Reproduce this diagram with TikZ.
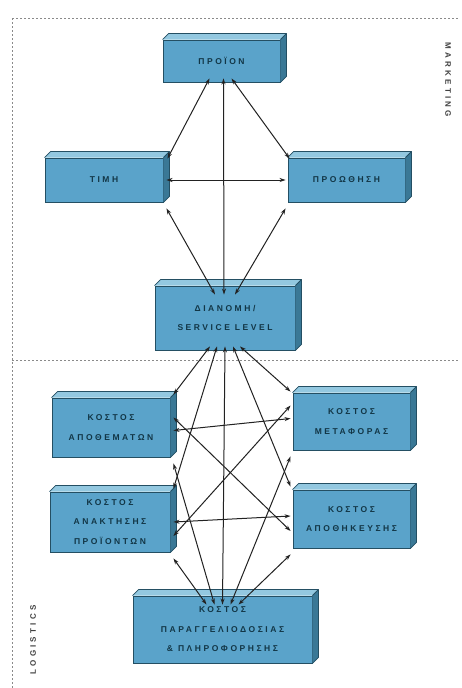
\documentclass[tikz,border=0pt]{standalone}
\usepackage{fontspec}
\setmainfont{Liberation Sans}
\newfontfamily\boxfont[LetterSpace=30]{Liberation Sans Bold}
\newfontfamily\sidefont[LetterSpace=40]{Liberation Sans Bold}
\usetikzlibrary{arrows.meta,calc}
\definecolor{boxfront}{HTML}{5AA3CA}
\definecolor{boxtop}{HTML}{93C8E0}
\definecolor{boxside}{HTML}{3A7896}
\definecolor{boxline}{HTML}{244F63}
\definecolor{boxtext}{HTML}{123646}
\definecolor{link}{HTML}{222222}
\definecolor{frameline}{HTML}{8A8A8A}
\tikzset{
  cube/.style={draw=boxline, fill=boxfront, line width=0.9pt, align=center,
    text=boxtext, inner sep=0pt, font=\boxfont\fontsize{8.5}{19.5}\selectfont},
  face/.style={draw=boxline, line width=0.8pt, line join=round},
  link/.style={draw=link, line width=1pt, {Stealth[length=6pt,width=4pt]}-{Stealth[length=6pt,width=4pt]}},
  frame/.style={draw=frameline, line width=0.9pt, dash pattern=on 1.5pt off 2.5pt},
  sidelabel/.style={text=black!75, font=\sidefont\fontsize{8}{9}\selectfont}
}
% a box drawn as a block: front node plus top and right faces
\newcommand\block[6]{%
  \node[cube, minimum width=#4, minimum height=#5] (#1) at (#2,#3) {#6};
  \fill[boxtop] (#1.north west) -- ++(6,-6) -- ([shift={(6,-6)}]#1.north east) -- (#1.north east) -- cycle;
  \fill[boxside] (#1.north east) -- ++(6,-6) -- ([shift={(6,-6)}]#1.south east) -- (#1.south east) -- cycle;
  \draw[face] (#1.north west) -- ++(6,-6) -- ([shift={(6,-6)}]#1.north east) -- ([shift={(6,-6)}]#1.south east) -- (#1.south east);
  \draw[face] (#1.north east) -- ++(6,-6);
}
\begin{document}
\begin{tikzpicture}[x=1pt,y=-1pt]
\useasboundingbox (0,0) rectangle (462,688);
\fill[white] (0,0) rectangle (462,688);

% dotted frame of the two areas
\draw[frame] (12,18) -- (458,18);
\draw[frame] (12,18) -- (12,688);
\draw[frame] (12,360) -- (458,360);

\node[sidelabel, rotate=-90] (mk) at (448,80) {MARKETING};
\node[sidelabel, rotate=90] (lg) at (33,640) {LOGISTICS};

% marketing mix
\block{prod}{221.5}{61}{117}{42}{ΠΡΟΪΟΝ}
\block{price}{104}{180}{118}{44}{ΤΙΜΗ}
\block{promo}{346.5}{180}{117}{44}{ΠΡΟΩΘΗΣΗ}
\block{serv}{225}{318}{140}{64}{ΔΙΑΝΟΜΗ/\\SERVICE LEVEL}

% logistics costs
\block{inv}{111}{427.5}{118}{59}{ΚΟΣΤΟΣ\\ΑΠΟΘΕΜΑΤΩΝ}
\block{trans}{351.5}{421.5}{117}{57}{ΚΟΣΤΟΣ\\ΜΕΤΑΦΟΡΑΣ}
\block{lot}{110}{522}{120}{60}{ΚΟΣΤΟΣ\\ΑΝΑΚΤΗΣΗΣ\\ΠΡΟΪΟΝΤΩΝ}
\block{ware}{351.5}{519}{117}{58}{ΚΟΣΤΟΣ\\ΑΠΟΘΗΚΕΥΣΗΣ}
\block{order}{222.5}{629.5}{179}{67}{ΚΟΣΤΟΣ\\ΠΑΡΑΓΓΕΛΙΟΔΟΣΙΑΣ\\\& ΠΛΗΡΟΦΟΡΗΣΗΣ}

% trade-offs in the marketing area
\draw[link] ([xshift=-12pt,yshift=4pt]prod.south) -- ([xshift=4pt,yshift=-1pt]price.north east);
\draw[link] ([xshift=10pt,yshift=4pt]prod.south) -- ([xshift=2pt,yshift=-1pt]promo.north west);
\draw[link] ([xshift=2pt,yshift=4pt]prod.south) -- ([xshift=-1pt,yshift=-9pt]serv.north);
\draw[link] ([xshift=3pt]price.east) -- ([xshift=-2pt]promo.west);
\draw[link] ([xshift=3pt,yshift=-6pt]price.south east) -- ([xshift=-10pt,yshift=-9pt]serv.north);
\draw[link] ([xshift=-2pt,yshift=-6pt]promo.south west) -- ([xshift=10pt,yshift=-9pt]serv.north);

% trade-offs in the logistics area
\draw[link] ([xshift=-15pt,yshift=4pt]serv.south) -- ([xshift=3pt,yshift=3pt]inv.north east);
\draw[link] ([xshift=15pt,yshift=4pt]serv.south) -- ([xshift=-2pt,yshift=1pt]trans.north west);
\draw[link] ([xshift=-8pt,yshift=4pt]serv.south) -- ([xshift=3pt,yshift=3pt]lot.north east);
\draw[link] ([xshift=8pt,yshift=4pt]serv.south) -- ([xshift=-2pt,yshift=3pt]ware.north west);
\draw[link] ([yshift=4pt]serv.south) -- ([yshift=-9pt]order.north);
\draw[link] ([xshift=3pt,yshift=-3pt]inv.east) -- ([xshift=-2pt,yshift=3pt]trans.west);
\draw[link] ([xshift=3pt,yshift=10pt]inv.east) -- ([xshift=-2pt,yshift=-12pt]ware.west);
\draw[link] ([xshift=3pt,yshift=-14pt]lot.east) -- ([xshift=-2pt,yshift=16pt]trans.west);
\draw[link] ([xshift=3pt]lot.east) -- ([xshift=-2pt,yshift=3pt]ware.west);
\draw[link] ([xshift=3pt,yshift=-6pt]inv.south east) -- ([xshift=-8pt,yshift=-9pt]order.north);
\draw[link] ([xshift=-2pt,yshift=-6pt]trans.south west) -- ([xshift=8pt,yshift=-9pt]order.north);
\draw[link] ([xshift=3pt,yshift=-6pt]lot.south east) -- ([xshift=-16pt,yshift=-9pt]order.north);
\draw[link] ([xshift=-2pt,yshift=-6pt]ware.south west) -- ([xshift=16pt,yshift=-9pt]order.north);
\end{tikzpicture}
\end{document}
